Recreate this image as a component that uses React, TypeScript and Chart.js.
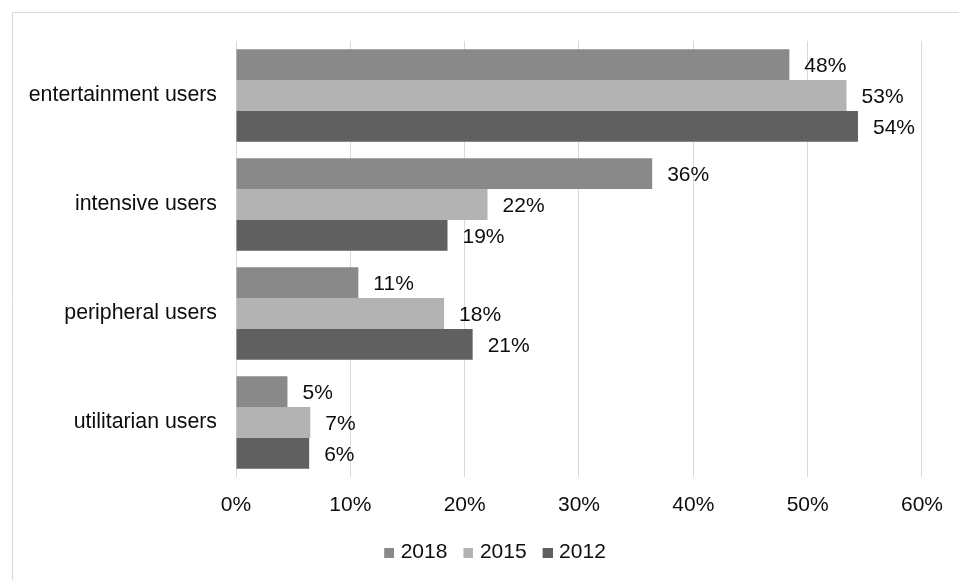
import React, { useEffect, useRef } from "react";
import { Chart, registerables } from "chart.js";

Chart.register(...registerables);

const categories = ["entertainment users", "intensive users", "peripheral users", "utilitarian users"];
const seriesNames = ["2018", "2015", "2012"];
const values2018 = [48.4, 36.4, 10.7, 4.5];
const values2015 = [53.4, 22.0, 18.2, 6.5];
const values2012 = [54.4, 18.5, 20.7, 6.4];
const labels2018 = ["48%", "36%", "11%", "5%"];
const labels2015 = ["53%", "22%", "18%", "7%"];
const labels2012 = ["54%", "19%", "21%", "6%"];
const xTicks = [0, 10, 20, 30, 40, 50, 60];
const seriesColors = ["#898989", "#b3b3b3", "#606060"];

const FONT = "'Liberation Sans', Arial, sans-serif";
const TEXT = "#0d0d0d";

const dataLabels = [labels2018, labels2015, labels2012];

function makeSwatch(color: string) {
  const c = document.createElement("canvas");
  c.width = 18;
  c.height = 10;
  const g = c.getContext("2d")!;
  g.fillStyle = color;
  g.fillRect(8, 0, 10, 10);
  return c;
}

const bgPlugin = {
  id: "bgBorder",
  beforeDraw(chart: any) {
    const ctx = chart.ctx;
    ctx.save();
    ctx.fillStyle = "#ffffff";
    ctx.fillRect(0, 0, chart.width, chart.height);
    ctx.strokeStyle = "#d9d9d9";
    ctx.lineWidth = 1;
    ctx.beginPath();
    ctx.moveTo(12.5, chart.height);
    ctx.lineTo(12.5, 12.5);
    ctx.lineTo(chart.width, 12.5);
    ctx.stroke();
    ctx.restore();
  },
};

const legendShiftPlugin = {
  id: "legendShift",
  afterLayout(chart: any) {
    const lg = chart.legend;
    if (lg) {
      lg.left += 32;
      lg.right += 32;
    }
  },
};

const labelPlugin = {
  id: "barLabels",
  afterDatasetsDraw(chart: any) {
    const ctx = chart.ctx;
    ctx.save();
    ctx.font = `21px ${FONT}`;
    ctx.fillStyle = TEXT;
    ctx.textAlign = "left";
    ctx.textBaseline = "middle";
    chart.data.datasets.forEach((ds: any, di: number) => {
      const meta = chart.getDatasetMeta(di);
      meta.data.forEach((el: any, i: number) => {
        ctx.fillText(dataLabels[di][i], el.x + 15, el.y + 1.5);
      });
    });
    ctx.restore();
  },
};

export default function App() {
  const ref = useRef<HTMLCanvasElement>(null);
  useEffect(() => {
    const allValues = [values2018, values2015, values2012];
    const chart = new Chart(ref.current!, {
      type: "bar",
      data: {
        labels: categories,
        datasets: seriesNames.map((name, i) => ({
          label: name,
          data: allValues[i],
          backgroundColor: seriesColors[i],
          pointStyle: makeSwatch(seriesColors[i]) as any,
        })),
      },
      options: {
        indexAxis: "y",
        responsive: false,
        animation: false,
        devicePixelRatio: 1,
        datasets: { bar: { categoryPercentage: 0.85, barPercentage: 1.0, borderWidth: 0 } },
        layout: { padding: { top: 41, right: 37, left: 0, bottom: 7 } },
        plugins: {
          tooltip: { enabled: false },
          legend: {
            position: "bottom",
            labels: {
              usePointStyle: true,
              pointStyleWidth: 10,
              boxWidth: 10,
              boxHeight: 10,
              padding: 12,
              color: TEXT,
              font: { family: FONT, size: 21 },
            },
          },
        },
        scales: {
          x: {
            min: 0,
            max: 60,
            afterBuildTicks: (s: any) => {
              s.ticks = xTicks.map((v) => ({ value: v }));
            },
            afterFit: (s: any) => {
              s.height = 53;
            },
            border: { display: false },
            grid: { color: "#d9d9d9", lineWidth: 1, drawTicks: false },
            ticks: {
              padding: 16,
              color: TEXT,
              font: { family: FONT, size: 21 },
              callback: (v: any) => v + "%",
            },
          },
          y: {
            afterFit: (s: any) => {
              s.width = 236;
            },
            border: { display: false },
            grid: { display: false, drawTicks: false },
            ticks: {
              padding: 19,
              color: TEXT,
              font: { family: FONT, size: 21.3 },
            },
          },
        },
      },
      plugins: [bgPlugin, legendShiftPlugin, labelPlugin],
    });
    return () => chart.destroy();
  }, []);
  return (
    <canvas
      ref={ref}
      width={959}
      height={580}
      style={{ position: "absolute", left: 0, top: 0, display: "block" }}
    />
  );
}
